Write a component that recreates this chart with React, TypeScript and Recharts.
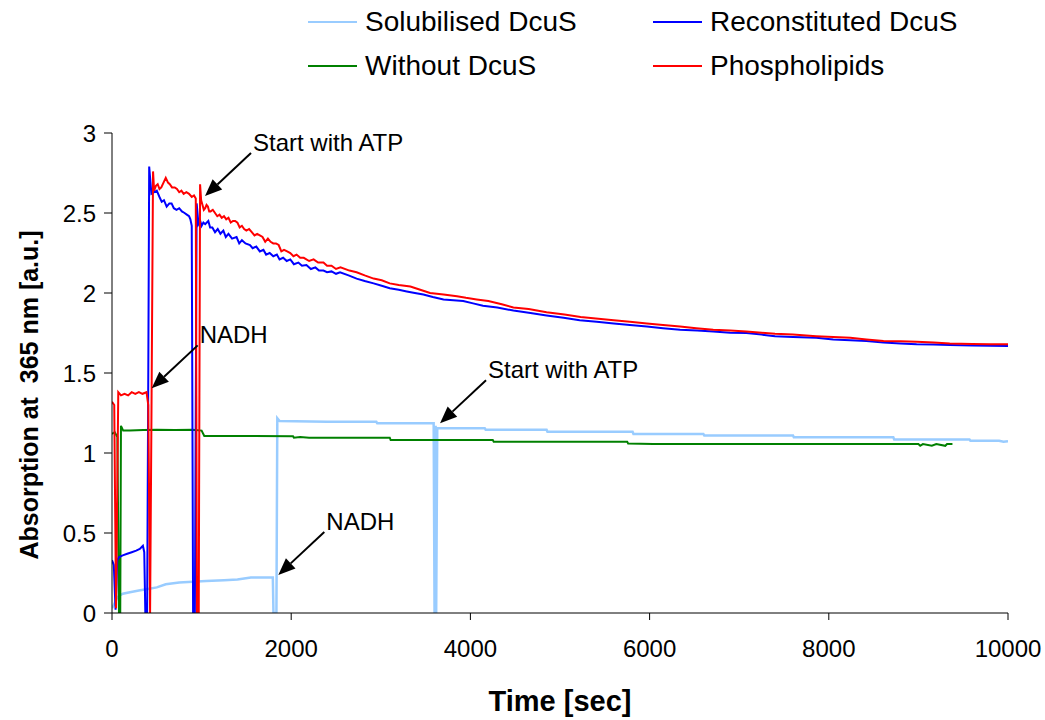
import { LineChart, Line, XAxis, YAxis, Legend, ReferenceDot } from "recharts";

// time [sec] / absorption [a.u.]
const solubilisedT = [0, 30, 60, 120, 200, 300, 400, 500, 600, 750, 900, 1050, 1250, 1400, 1550, 1795, 1802, 1835, 1845, 1870, 2400, 2950, 2960, 3590, 3600, 3612, 3618, 3630, 4160, 4170, 4850, 4860, 5810, 5820, 6600, 6610, 7600, 7610, 8720, 8730, 9570, 9580, 9900, 9950, 10000];
const solubilisedV = [0.03, 0.06, 0.1, 0.12, 0.13, 0.14, 0.15, 0.16, 0.18, 0.19, 0.195, 0.2, 0.205, 0.21, 0.222, 0.222, 0, 0, 1.217, 1.2, 1.195, 1.195, 1.186, 1.186, 0, 1.17, 0, 1.155, 1.155, 1.146, 1.146, 1.133, 1.133, 1.119, 1.119, 1.11, 1.11, 1.098, 1.098, 1.085, 1.085, 1.077, 1.077, 1.07, 1.073];

const reconstitutedT = [0, 20, 40, 58, 80, 120, 170, 220, 270, 310, 345, 360, 372, 392, 405, 415, 440, 470, 500, 530, 555, 580, 610, 640, 665, 690, 720, 750, 780, 810, 835, 860, 875, 890, 905, 925, 945, 965, 985, 1000, 1020, 1040, 1075, 1095, 1120, 1150, 1180, 1210, 1243, 1270, 1300, 1340, 1390, 1420, 1450, 1490, 1540, 1570, 1610, 1650, 1690, 1720, 1760, 1800, 1840, 1870, 1910, 1950, 1990, 2030, 2080, 2120, 2170, 2220, 2270, 2310, 2360, 2400, 2450, 2500, 2545, 2640, 2730, 2820, 2920, 3010, 3100, 3200, 3290, 3380, 3475, 3580, 3700, 3810, 3920, 4030, 4140, 4300, 4480, 4670, 4850, 5040, 5220, 5410, 5600, 5780, 5970, 6150, 6340, 6530, 6710, 6900, 7080, 7250, 7400, 7600, 7860, 8050, 8240, 8420, 8610, 8800, 8980, 9170, 9350, 9600, 9800, 10000];
const reconstitutedV = [0.33, 0.3, 0.02, 0.33, 0.35, 0.36, 0.37, 0.38, 0.39, 0.4, 0.42, 0.38, 0, 0, 1.5, 2.79, 2.62, 2.63, 2.64, 2.6, 2.57, 2.58, 2.54, 2.56, 2.56, 2.53, 2.52, 2.53, 2.51, 2.5, 2.49, 2.48, 2.46, 2.42, 0, 0, 2.56, 2.43, 2.45, 2.42, 2.44, 2.43, 2.45, 2.41, 2.41, 2.38, 2.4, 2.37, 2.39, 2.35, 2.37, 2.34, 2.35, 2.31, 2.33, 2.31, 2.3, 2.28, 2.29, 2.26, 2.27, 2.24, 2.25, 2.23, 2.24, 2.21, 2.22, 2.2, 2.21, 2.18, 2.19, 2.17, 2.175, 2.15, 2.16, 2.14, 2.14, 2.13, 2.135, 2.12, 2.13, 2.11, 2.09, 2.075, 2.06, 2.045, 2.03, 2.02, 2.01, 2.0, 1.99, 1.975, 1.96, 1.955, 1.95, 1.935, 1.92, 1.91, 1.89, 1.875, 1.86, 1.845, 1.83, 1.82, 1.81, 1.8, 1.79, 1.78, 1.77, 1.765, 1.76, 1.752, 1.75, 1.74, 1.73, 1.725, 1.72, 1.71, 1.705, 1.7, 1.69, 1.685, 1.68, 1.678, 1.675, 1.672, 1.67, 1.668];

const withoutT = [0, 30, 60, 78, 92, 100, 125, 200, 350, 500, 700, 900, 1000, 1030, 1500, 2020, 2030, 2100, 2200, 3100, 3110, 4250, 4260, 5750, 5760, 6040, 9000, 9020, 9050, 9150, 9200, 9300, 9320, 9380];
const withoutV = [1.12, 1.13, 1.1, 0, 0, 1.17, 1.14, 1.14, 1.143, 1.145, 1.144, 1.145, 1.14, 1.106, 1.106, 1.105, 1.096, 1.1, 1.096, 1.096, 1.081, 1.081, 1.071, 1.071, 1.06, 1.056, 1.056, 1.045, 1.056, 1.045, 1.056, 1.045, 1.056, 1.056];

const phosphoT = [0, 25, 45, 70, 100, 140, 180, 220, 260, 300, 340, 385, 405, 425, 440, 458, 470, 490, 510, 530, 550, 575, 600, 625, 645, 670, 700, 725, 750, 775, 800, 830, 860, 890, 915, 935, 948, 968, 983, 995, 1010, 1025, 1040, 1055, 1070, 1085, 1100, 1125, 1150, 1175, 1200, 1225, 1250, 1275, 1300, 1325, 1350, 1375, 1400, 1425, 1450, 1475, 1500, 1530, 1560, 1590, 1620, 1650, 1680, 1710, 1740, 1770, 1800, 1830, 1860, 1890, 1920, 1955, 1990, 2025, 2060, 2100, 2140, 2200, 2250, 2300, 2360, 2400, 2450, 2500, 2550, 2650, 2730, 2820, 2920, 3010, 3100, 3200, 3330, 3440, 3550, 3700, 3850, 3950, 4070, 4200, 4350, 4480, 4650, 4850, 5050, 5230, 5400, 5600, 5780, 5970, 6150, 6340, 6520, 6710, 6900, 7080, 7250, 7400, 7600, 7860, 8050, 8240, 8420, 8610, 8800, 8980, 9170, 9350, 9600, 9800, 10000];
const phosphoV = [1.32, 1.3, 0.03, 1.38, 1.36, 1.37, 1.36, 1.38, 1.37, 1.38, 1.37, 1.38, 1.3, 0, 1.2, 2.76, 2.64, 2.67, 2.68, 2.65, 2.66, 2.69, 2.72, 2.69, 2.68, 2.66, 2.66, 2.65, 2.63, 2.64, 2.62, 2.63, 2.62, 2.6, 2.61, 2.59, 0, 0, 2.68, 2.58, 2.55, 2.52, 2.53, 2.55, 2.54, 2.51, 2.51, 2.52, 2.5, 2.48, 2.49, 2.47, 2.48, 2.46, 2.47, 2.44, 2.45, 2.45, 2.44, 2.41, 2.42, 2.4, 2.39, 2.4, 2.38, 2.36, 2.37, 2.36, 2.35, 2.32, 2.34, 2.32, 2.31, 2.31, 2.3, 2.26, 2.27, 2.26, 2.25, 2.23, 2.24, 2.22, 2.22, 2.2, 2.21, 2.19, 2.19, 2.17, 2.17, 2.15, 2.16, 2.14, 2.13, 2.11, 2.09, 2.08, 2.06, 2.05, 2.04, 2.02, 2.0, 1.99, 1.98, 1.97, 1.96, 1.95, 1.93, 1.91, 1.9, 1.88, 1.865, 1.85, 1.84, 1.83, 1.82, 1.81, 1.8, 1.79, 1.78, 1.77, 1.765, 1.76, 1.752, 1.745, 1.74, 1.73, 1.725, 1.72, 1.71, 1.7, 1.698, 1.695, 1.69, 1.685, 1.682, 1.68, 1.68];

const xTicks = [0, 2000, 4000, 6000, 8000, 10000];
const yTicks = [0, 0.5, 1, 1.5, 2, 2.5, 3];

const toPoints = (t: number[], v: number[]) => t.map((x, i) => ({ t: x, v: v[i] }));

const series = [
  { name: "Solubilised DcuS", color: "#99ccff", width: 2.5, data: toPoints(solubilisedT, solubilisedV) },
  { name: "Without DcuS", color: "#008000", width: 2, data: toPoints(withoutT, withoutV) },
  { name: "Reconstituted DcuS", color: "#0000ff", width: 2, data: toPoints(reconstitutedT, reconstitutedV) },
  { name: "Phospholipids", color: "#ff0000", width: 2, data: toPoints(phosphoT, phosphoV) },
];

// annotation arrows: tip in data coords
const notes = [
  { label: "Start with ATP", t: 1038, v: 2.606 },
  { label: "NADH", t: 443, v: 1.404 },
  { label: "Start with ATP", t: 3661, v: 1.186 },
  { label: "NADH", t: 1856, v: 0.2375 },
];

const FONT = '"Liberation Sans", Arial, sans-serif';

function Arrow(props: any) {
  const { cx, cy, label } = props;
  const dx = 46, dy = -43;
  const len = Math.sqrt(dx * dx + dy * dy);
  const ux = dx / len, uy = dy / len;
  const hl = 17, hw = 7;
  const bx = cx + ux * hl, by = cy + uy * hl;
  const p1 = `${bx - uy * hw},${by + ux * hw}`;
  const p2 = `${bx + uy * hw},${by - ux * hw}`;
  return (
    <g>
      <line x1={bx} y1={by} x2={cx + dx} y2={cy + dy} stroke="#000" strokeWidth={2} />
      <polygon points={`${cx},${cy} ${p1} ${p2}`} fill="#000" />
      <text x={cx + dx + 2} y={cy + dy - 11} fontSize={24} fontFamily={FONT} fill="#000" dominantBaseline="central">
        {label}
      </text>
    </g>
  );
}

function LegendBox() {
  const cols = [
    [series[0], series[1]],
    [series[2], series[3]],
  ];
  return (
    <div style={{ position: "relative", width: 1045, height: 90, fontFamily: FONT, fontSize: 28, color: "#000" }}>
      {cols.map((col, ci) =>
        col.map((s, ri) => (
          <div key={s.name} style={{ position: "absolute", left: 308 + ci * 345, top: 4 + ri * 44, display: "flex", alignItems: "center", height: 36 }}>
            <div style={{ width: 49, height: 2, background: s.color, marginRight: 8 }} />
            <span style={{ lineHeight: "36px", whiteSpace: "nowrap" }}>{s.name}</span>
          </div>
        ))
      )}
    </div>
  );
}

function YLabel(props: any) {
  const { viewBox } = props;
  const x = viewBox.x + 38;
  const y = viewBox.y + viewBox.height / 2 + 22;
  return (
    <text x={x} y={y} transform={`rotate(-90, ${x}, ${y})`} textAnchor="middle" fontSize={25} fontWeight="bold" fontFamily={FONT} fill="#000">
      {"Absorption at\u00a0 365 nm [a.u.]"}
    </text>
  );
}

export default function App() {
  return (
    <div style={{ position: "absolute", left: 0, top: 0, background: "#fff" }}>
      <LineChart width={1045} height={720} margin={{ top: 133, right: 37, bottom: 7, left: 0 }}>
        <XAxis
          type="number"
          dataKey="t"
          domain={[0, 10000]}
          ticks={xTicks}
          allowDataOverflow
          axisLine={{ stroke: "#000", strokeWidth: 1 }}
          tickLine={{ stroke: "#000" }}
          tickSize={7}
          tickMargin={20}
          height={100}
          tick={{ fill: "#000", fontSize: 24, fontFamily: FONT }}
          label={{ value: "Time [sec]", position: "insideBottom", offset: 2, style: { fontSize: 29, fontWeight: "bold", fontFamily: FONT, fill: "#000" } }}
        />
        <YAxis
          type="number"
          dataKey="v"
          domain={[0, 3]}
          ticks={yTicks}
          allowDataOverflow
          width={112}
          axisLine={{ stroke: "#000", strokeWidth: 1 }}
          tickLine={{ stroke: "#000" }}
          tickSize={8}
          tickMargin={8}
          tick={{ fill: "#000", fontSize: 24, fontFamily: FONT }}
          label={<YLabel />}
        />
        <Legend verticalAlign="middle" align="center" wrapperStyle={{ top: 0, left: 0, width: 1045, height: 90 }} content={() => <LegendBox />} />
        {series.map((s) => (
          <Line
            key={s.name}
            data={s.data}
            dataKey="v"
            name={s.name}
            type="linear"
            stroke={s.color}
            strokeWidth={s.width}
            dot={false}
            activeDot={false}
            isAnimationActive={false}
          />
        ))}
        {notes.map((n, i) => (
          <ReferenceDot key={i} x={n.t} y={n.v} r={0} ifOverflow="visible" shape={(p: any) => <Arrow {...p} label={n.label} />} />
        ))}
      </LineChart>
    </div>
  );
}
